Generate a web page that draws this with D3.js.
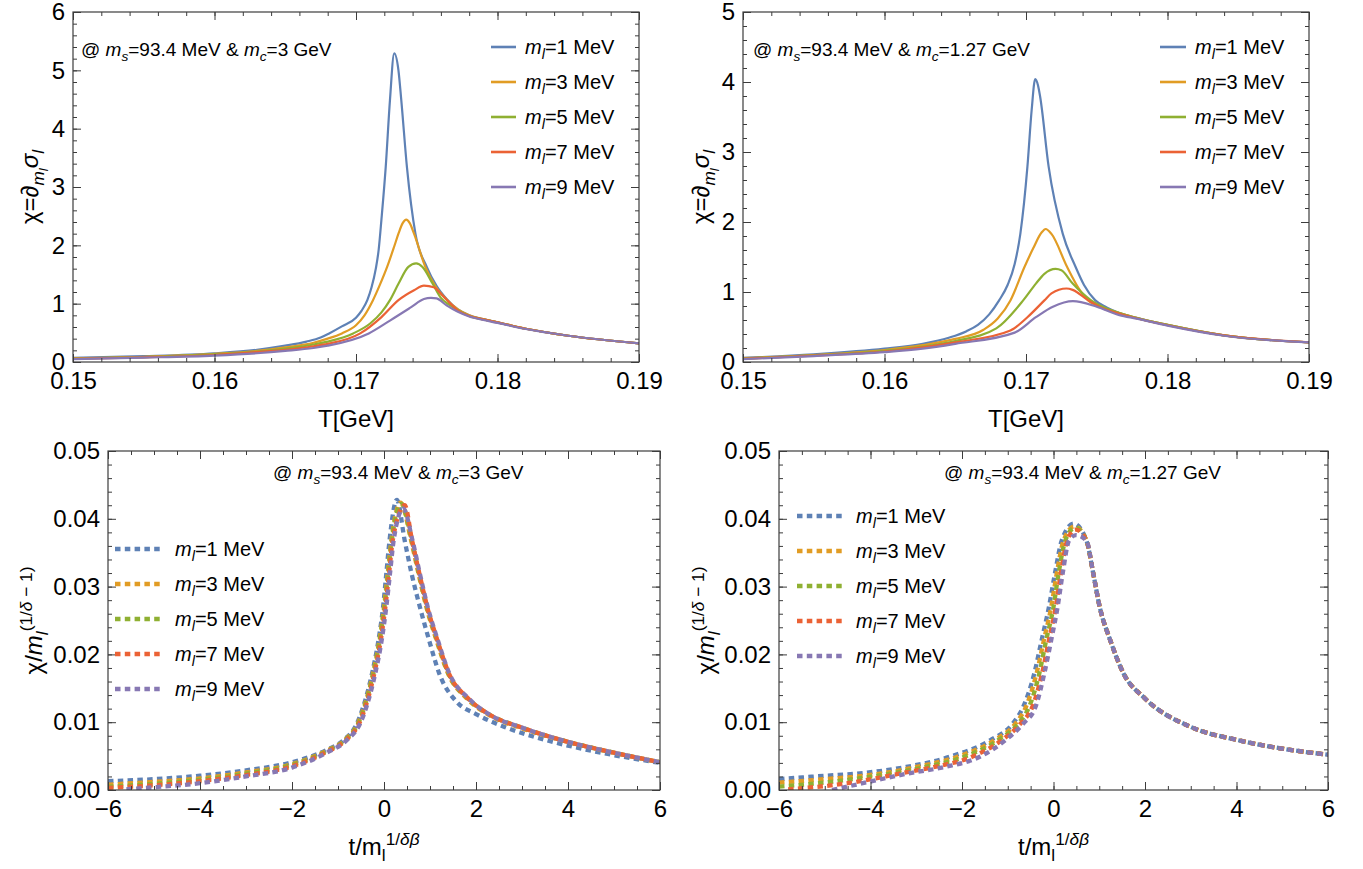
<!DOCTYPE html>
<html>
<head>
<meta charset="utf-8">
<script src="https://cdn.jsdelivr.net/npm/d3@7"></script>
<style>
body{margin:0;background:#fff;}
text{font-family:"Liberation Sans",Arial,sans-serif;fill:#000;}
</style>
</head>
<body>
<script>
(function(){

//series colours (Mathematica default palette) and legend labels
var colors = ["#5E81B5", "#E19C24", "#8FB032", "#EB6235", "#8778B3"];
var massLabels = ["1", "3", "5", "7", "9"];

//top left: chi vs T, m_c = 3 GeV
var tl_m1 = [[0.150,0.07],[0.155,0.10],[0.160,0.15],[0.163,0.21],[0.165,0.28],[0.1665,0.35],[0.1675,0.42],[0.1681,0.49],[0.169,0.61],[0.1700,0.76],[0.1704,0.88],[0.1708,1.06],[0.1711,1.28],[0.1714,1.60],[0.1716,1.92],[0.1718,2.45],[0.1721,3.34],[0.1724,4.49],[0.1727,5.29],[0.1730,5.00],[0.1732,4.49],[0.1736,3.34],[0.1742,2.20],[0.1750,1.63],[0.1757,1.30],[0.1764,1.08],[0.1772,0.90],[0.1780,0.80],[0.179,0.735],[0.180,0.68],[0.182,0.57],[0.185,0.45],[0.190,0.32]];
var tl_m3 = [[0.150,0.065],[0.155,0.09],[0.160,0.14],[0.163,0.19],[0.165,0.25],[0.167,0.33],[0.168,0.40],[0.169,0.49],[0.170,0.63],[0.1706,0.80],[0.1712,1.06],[0.1717,1.33],[0.1722,1.63],[0.1727,1.98],[0.1730,2.20],[0.1733,2.38],[0.17355,2.44],[0.1738,2.38],[0.1741,2.20],[0.1749,1.63],[0.1756,1.30],[0.1764,1.07],[0.1772,0.90],[0.1780,0.80],[0.179,0.735],[0.180,0.68],[0.182,0.57],[0.185,0.45],[0.190,0.32]];
var tl_m5 = [[0.150,0.06],[0.155,0.085],[0.160,0.13],[0.163,0.18],[0.165,0.23],[0.167,0.30],[0.168,0.35],[0.1698,0.49],[0.171,0.66],[0.1718,0.85],[0.1724,1.06],[0.1730,1.34],[0.1737,1.63],[0.17425,1.69],[0.1747,1.63],[0.1754,1.35],[0.1760,1.10],[0.1766,0.98],[0.1772,0.89],[0.1780,0.79],[0.179,0.73],[0.180,0.68],[0.182,0.57],[0.185,0.45],[0.190,0.32]];
var tl_m7 = [[0.150,0.055],[0.155,0.08],[0.160,0.12],[0.163,0.17],[0.165,0.21],[0.167,0.27],[0.168,0.31],[0.1703,0.49],[0.1718,0.77],[0.1730,1.06],[0.1741,1.23],[0.1748,1.31],[0.1755,1.28],[0.1760,1.17],[0.1766,1.02],[0.1772,0.88],[0.1780,0.79],[0.179,0.73],[0.180,0.68],[0.182,0.57],[0.185,0.45],[0.190,0.32]];
var tl_m9 = [[0.150,0.05],[0.155,0.075],[0.160,0.11],[0.163,0.15],[0.165,0.19],[0.167,0.24],[0.168,0.28],[0.1709,0.49],[0.1724,0.71],[0.1739,0.94],[0.1748,1.08],[0.1753,1.10],[0.1757,1.09],[0.1764,0.97],[0.1772,0.86],[0.1780,0.78],[0.179,0.72],[0.180,0.67],[0.182,0.565],[0.185,0.45],[0.190,0.32]];

//top right: chi vs T, m_c = 1.27 GeV
var tr_m1 = [[0.150,0.06],[0.155,0.11],[0.160,0.19],[0.1627,0.26],[0.1646,0.35],[0.1658,0.44],[0.1666,0.53],[0.1674,0.68],[0.1681,0.88],[0.1687,1.10],[0.1692,1.40],[0.1696,1.83],[0.1701,2.79],[0.1704,3.60],[0.17065,4.04],[0.17085,3.95],[0.1710,3.79],[0.1716,2.79],[0.1726,1.83],[0.1735,1.36],[0.1741,1.10],[0.1749,0.88],[0.1757,0.78],[0.1766,0.70],[0.1778,0.63],[0.180,0.53],[0.184,0.38],[0.190,0.28]];
var tr_m3 = [[0.150,0.055],[0.155,0.10],[0.160,0.17],[0.1627,0.24],[0.165,0.33],[0.1670,0.46],[0.168,0.62],[0.1689,0.88],[0.1699,1.36],[0.1705,1.62],[0.1711,1.85],[0.17139,1.90],[0.1718,1.83],[0.1729,1.36],[0.1737,1.06],[0.1744,0.88],[0.1755,0.77],[0.1766,0.70],[0.1778,0.63],[0.180,0.53],[0.184,0.38],[0.190,0.28]];
var tr_m5 = [[0.150,0.05],[0.155,0.095],[0.160,0.16],[0.1627,0.22],[0.165,0.30],[0.1679,0.48],[0.1698,0.88],[0.1707,1.12],[0.1713,1.26],[0.17209,1.33],[0.1725,1.31],[0.1733,1.12],[0.1746,0.88],[0.1756,0.77],[0.1766,0.70],[0.1778,0.63],[0.180,0.53],[0.184,0.38],[0.190,0.28]];
var tr_m7 = [[0.150,0.045],[0.155,0.09],[0.160,0.15],[0.1627,0.21],[0.165,0.28],[0.1689,0.45],[0.1701,0.64],[0.1713,0.88],[0.1718,0.98],[0.17286,1.05],[0.1733,1.03],[0.1744,0.88],[0.1755,0.76],[0.1766,0.69],[0.1778,0.625],[0.180,0.525],[0.184,0.38],[0.190,0.28]];
var tr_m9 = [[0.150,0.04],[0.155,0.085],[0.160,0.14],[0.1627,0.19],[0.165,0.26],[0.1692,0.42],[0.1707,0.64],[0.1719,0.79],[0.17332,0.87],[0.1750,0.79],[0.1766,0.67],[0.1778,0.62],[0.180,0.52],[0.184,0.375],[0.190,0.28]];

//bottom left: scaled chi, m_c = 3 GeV
var bl_m1 = [[-6,0.0013],[-5,0.0016],[-4,0.0021],[-3,0.0029],[-2,0.0041],[-1.25,0.0059],[-0.87,0.0074],[-0.59,0.0098],[-0.45,0.0123],[-0.26,0.0172],[-0.12,0.0221],[-0.02,0.0270],[0.05,0.0319],[0.12,0.0368],[0.28,0.0428],[0.45,0.0368],[0.60,0.0319],[0.78,0.0270],[0.98,0.0221],[1.20,0.0172],[1.58,0.0130],[2.0,0.0112],[2.62,0.0093],[3.5,0.0074],[4.5,0.0058],[6,0.0040]];
var bl_m3 = [[-6,0.0008],[-5,0.0012],[-4,0.0017],[-3,0.0026],[-2,0.0038],[-1.25,0.0058],[-0.85,0.0074],[-0.57,0.0098],[-0.43,0.0123],[-0.24,0.0172],[-0.10,0.0221],[0.0,0.0270],[0.08,0.0319],[0.16,0.0368],[0.36,0.0424],[0.59,0.0368],[0.75,0.0319],[0.92,0.0270],[1.14,0.0221],[1.39,0.0172],[1.8,0.0135],[2.3,0.0110],[3.0,0.0091],[4.0,0.0071],[5.0,0.0055],[6,0.0041]];
var bl_m5 = [[-6,0.0005],[-5,0.0009],[-4,0.0015],[-3,0.0024],[-2,0.0037],[-1.25,0.0057],[-0.84,0.0074],[-0.56,0.0098],[-0.42,0.0123],[-0.23,0.0172],[-0.09,0.0221],[0.01,0.0270],[0.09,0.0319],[0.17,0.0368],[0.38,0.0422],[0.60,0.0368],[0.76,0.0319],[0.93,0.0270],[1.15,0.0221],[1.40,0.0172],[1.82,0.0135],[2.3,0.0111],[3.0,0.0092],[4.0,0.0071],[5.0,0.0055],[6,0.0041]];
var bl_m7 = [[-6,0.0003],[-5,0.0007],[-4,0.0013],[-3,0.0022],[-2,0.0035],[-1.25,0.0056],[-0.82,0.0074],[-0.54,0.0098],[-0.40,0.0123],[-0.21,0.0172],[-0.07,0.0221],[0.03,0.0270],[0.11,0.0319],[0.19,0.0368],[0.45,0.0420],[0.61,0.0368],[0.77,0.0319],[0.94,0.0270],[1.16,0.0221],[1.41,0.0172],[1.83,0.0135],[2.3,0.0111],[3.0,0.0092],[4.0,0.0071],[5.0,0.0055],[6,0.0041]];
var bl_m9 = [[-5.6,0.0001],[-5,0.0004],[-4,0.0010],[-3,0.0020],[-2,0.0033],[-1.25,0.0055],[-0.80,0.0074],[-0.52,0.0098],[-0.38,0.0123],[-0.19,0.0172],[-0.05,0.0221],[0.05,0.0270],[0.13,0.0319],[0.21,0.0368],[0.42,0.0415],[0.62,0.0368],[0.78,0.0319],[0.95,0.0270],[1.17,0.0221],[1.42,0.0172],[1.84,0.0135],[2.3,0.0111],[3.0,0.0092],[4.0,0.0071],[5.0,0.0055],[6,0.0041]];

//bottom right: scaled chi, m_c = 1.27 GeV
var br_m1 = [[-6,0.0016],[-5,0.0021],[-4.17,0.0025],[-3.22,0.0034],[-2.27,0.0049],[-1.37,0.0074],[-0.89,0.0098],[-0.66,0.0123],[-0.42,0.0172],[-0.26,0.0221],[-0.10,0.0270],[0.03,0.0319],[0.18,0.0368],[0.44,0.0393],[0.72,0.0368],[0.87,0.0319],[1.01,0.0270],[1.24,0.0221],[1.53,0.0172],[2.0,0.0135],[3.0,0.0093],[4.0,0.0074],[5.0,0.0061],[6,0.0052]];
var br_m3 = [[-6,0.0011],[-5,0.0016],[-3.7,0.0025],[-3.0,0.0034],[-2.1,0.0049],[-1.28,0.0074],[-0.83,0.0098],[-0.60,0.0123],[-0.37,0.0172],[-0.21,0.0221],[-0.05,0.0270],[0.07,0.0319],[0.22,0.0368],[0.46,0.0389],[0.72,0.0368],[0.87,0.0319],[1.01,0.0270],[1.24,0.0221],[1.53,0.0172],[2.0,0.0135],[3.0,0.0093],[4.0,0.0074],[5.0,0.0061],[6,0.0052]];
var br_m5 = [[-6,0.0005],[-5,0.0011],[-3.5,0.0025],[-2.8,0.0034],[-1.95,0.0049],[-1.20,0.0074],[-0.77,0.0098],[-0.53,0.0123],[-0.31,0.0172],[-0.16,0.0221],[0.0,0.0270],[0.11,0.0319],[0.26,0.0368],[0.47,0.0387],[0.72,0.0368],[0.87,0.0319],[1.01,0.0270],[1.24,0.0221],[1.53,0.0172],[2.0,0.0135],[3.0,0.0093],[4.0,0.0074],[5.0,0.0061],[6,0.0052]];
var br_m7 = [[-5.8,0.0001],[-4.5,0.0010],[-3.3,0.0025],[-2.6,0.0034],[-1.78,0.0049],[-1.12,0.0074],[-0.72,0.0098],[-0.46,0.0123],[-0.25,0.0172],[-0.10,0.0221],[0.05,0.0270],[0.16,0.0319],[0.30,0.0368],[0.48,0.0384],[0.72,0.0368],[0.87,0.0319],[1.01,0.0270],[1.24,0.0221],[1.53,0.0172],[2.0,0.0135],[3.0,0.0093],[4.0,0.0074],[5.0,0.0061],[6,0.0052]];
var br_m9 = [[-4.84,0.0],[-4.17,0.0010],[-3.13,0.0025],[-2.37,0.0034],[-1.61,0.0049],[-1.04,0.0074],[-0.66,0.0098],[-0.39,0.0123],[-0.20,0.0172],[-0.05,0.0221],[0.09,0.0270],[0.20,0.0319],[0.34,0.0368],[0.49,0.0376],[0.72,0.0368],[0.87,0.0319],[1.01,0.0270],[1.24,0.0221],[1.53,0.0172],[2.0,0.0135],[3.0,0.0093],[4.0,0.0074],[5.0,0.0061],[6,0.0052]];

//tick values
var tTicks = [0.15, 0.16, 0.17, 0.18, 0.19];
var tlYTicks = [0, 1, 2, 3, 4, 5, 6];
var trYTicks = [0, 1, 2, 3, 4, 5];
var sTicks = [-6, -4, -2, 0, 2, 4, 6];
var sYTicks = [0, 0.01, 0.02, 0.03, 0.04, 0.05];

var width = 1363, height = 869;
var svg = d3.select("body").append("svg")
    .attr("width", width)
    .attr("height", height);

//panel layout
var panels = [
    {x0:73, x1:639, y0:12, y1:362, xDom:[0.15,0.19], yDom:[0,6], xTicks:tTicks, yTicks:tlYTicks,
     xMinor:0.002, yMinor:0.2, xFmt:d3.format(".2f"), yFmt:d3.format("d"),
     series:[tl_m1, tl_m3, tl_m5, tl_m7, tl_m9], dotted:false, mc:"3",
     note:[81, 56], leg:[491, 516, 525, 47], yTitleX:38, xTitleY:427, yTitle:"top", xTitle:"T"},
    {x0:743, x1:1309, y0:12, y1:362, xDom:[0.15,0.19], yDom:[0,5], xTicks:tTicks, yTicks:trYTicks,
     xMinor:0.002, yMinor:0.2, xFmt:d3.format(".2f"), yFmt:d3.format("d"),
     series:[tr_m1, tr_m3, tr_m5, tr_m7, tr_m9], dotted:false, mc:"1.27",
     note:[753, 56], leg:[1160, 1186, 1195, 47], yTitleX:709, xTitleY:427, yTitle:"top", xTitle:"T"},
    {x0:108, x1:660, y0:451, y1:790, xDom:[-6,6], yDom:[0,0.05], xTicks:sTicks, yTicks:sYTicks,
     xMinor:0.5, yMinor:0.002, xFmt:d3.format("d"), yFmt:d3.format(".2f"),
     series:[bl_m1, bl_m3, bl_m5, bl_m7, bl_m9], dotted:true, mc:"3",
     note:[273, 479], leg:[115, 162, 175, 549], yTitleX:42, xTitleY:855, yTitle:"bottom", xTitle:"t"},
    {x0:779, x1:1328, y0:451, y1:790, xDom:[-6,6], yDom:[0,0.05], xTicks:sTicks, yTicks:sYTicks,
     xMinor:0.5, yMinor:0.002, xFmt:d3.format("d"), yFmt:d3.format(".2f"),
     series:[br_m1, br_m3, br_m5, br_m7, br_m9], dotted:true, mc:"1.27",
     note:[944, 479], leg:[797, 844, 856, 516], yTitleX:714, xTitleY:855, yTitle:"bottom", xTitle:"t"}
];

panels.forEach(function(p, i){ drawPanel(p, i); });

//append text made of normal / italic / shifted pieces
function rich(textSel, parts, size){
    var cur = 0;
    parts.forEach(function(part){
        var s = part[0], kind = part[1] || "";
        var off = 0, fs = size;
        if (kind.indexOf("sub") >= 0){ off = size * 0.25; fs = size * 0.72; }
        if (kind.indexOf("sup") >= 0){ off = -size * 0.42; fs = size * 0.72; }
        if (kind.indexOf("ss") >= 0){ off = size * 0.42; fs = size * 0.55; }
        var t = textSel.append("tspan")
            .text(s)
            .attr("dy", off - cur)
            .style("font-size", fs + "px");
        if (kind.indexOf("it") >= 0) t.style("font-style", "italic");
        cur = off;
    });
}

function drawPanel(p, idx){
    var g = svg.append("g");
    var x = d3.scaleLinear().domain(p.xDom).range([p.x0, p.x1]);
    var y = d3.scaleLinear().domain(p.yDom).range([p.y1, p.y0]);
    var frameColor = "#3c3c3c";

    var xMinors = d3.range(p.xDom[0], p.xDom[1] + p.xMinor / 2, p.xMinor);
    var yMinors = d3.range(p.yDom[0], p.yDom[1] + p.yMinor / 2, p.yMinor);

    //curves, clipped to the frame
    var clipId = "clip" + idx;
    svg.append("clipPath").attr("id", clipId)
        .append("rect")
        .attr("x", p.x0).attr("y", p.y0)
        .attr("width", p.x1 - p.x0).attr("height", p.y1 - p.y0);

    var line = d3.line()
        .x(function(d){ return x(d[0]); })
        .y(function(d){ return y(d[1]); })
        .curve(d3.curveMonotoneX);

    var curves = g.append("g").attr("clip-path", "url(#" + clipId + ")");
    p.series.forEach(function(s, k){
        var path = curves.append("path")
            .datum(s)
            .attr("fill", "none")
            .attr("stroke", colors[k])
            .attr("d", line);
        if (p.dotted){
            path.attr("stroke-width", 4.3).attr("stroke-dasharray", "5.5,4.3");
        } else {
            path.attr("stroke-width", 2.2).attr("stroke-linejoin", "round");
        }
    });

    //frame ticks (inward) on all four sides
    function styleAxis(a){
        a.select(".domain").remove();
        a.selectAll("line").attr("stroke", frameColor);
        a.attr("font-size", 24).attr("font-family", null);
        a.selectAll("text").attr("fill", "#000");
    }
    var axes = [
        [d3.axisBottom(x), "translate(0," + p.y1 + ")", p.xTicks, xMinors, p.xFmt, 10],
        [d3.axisTop(x), "translate(0," + p.y0 + ")", p.xTicks, xMinors, null, 10],
        [d3.axisLeft(y), "translate(" + p.x0 + ",0)", p.yTicks, yMinors, p.yFmt, 8],
        [d3.axisRight(y), "translate(" + p.x1 + ",0)", p.yTicks, yMinors, null, 8]
    ];
    axes.forEach(function(a){
        var minorAxis = a[0].tickValues(a[3]).tickSize(-4).tickSizeOuter(0).tickFormat("");
        g.append("g").attr("transform", a[1]).call(minorAxis).call(styleAxis);
        var majorAxis = a[0].tickValues(a[2]).tickSize(-8).tickSizeOuter(0)
            .tickPadding(a[5])
            .tickFormat(a[4] ? a[4] : "");
        g.append("g").attr("transform", a[1]).call(majorAxis).call(styleAxis);
    });

    g.append("rect")
        .attr("x", p.x0).attr("y", p.y0)
        .attr("width", p.x1 - p.x0).attr("height", p.y1 - p.y0)
        .attr("fill", "none")
        .attr("stroke", frameColor)
        .attr("stroke-width", 1.2);

    //note text
    var note = g.append("text").attr("x", p.note[0]).attr("y", p.note[1]);
    rich(note, [["@ "], ["m", "it"], ["s", "subit"], ["=93.4 MeV & "], ["m", "it"], ["c", "subit"], ["=" + p.mc + " GeV"]], 19);

    //legend
    var legStep = 35;
    massLabels.forEach(function(m, k){
        var ly = p.leg[3] + k * legStep;
        var ll = g.append("line")
            .attr("x1", p.leg[0]).attr("x2", p.leg[1])
            .attr("y1", ly).attr("y2", ly)
            .attr("stroke", colors[k]);
        if (p.dotted){
            ll.attr("stroke-width", 4.3).attr("stroke-dasharray", "5.5,4.3");
        } else {
            ll.attr("stroke-width", 2.6);
        }
        var lt = g.append("text").attr("x", p.leg[2]).attr("y", ly + 7);
        rich(lt, [["m", "it"], ["l", "subit"], ["=" + m + " MeV"]], 20);
    });

    //axis titles
    var cx = (p.x0 + p.x1) / 2, cy = (p.y0 + p.y1) / 2;
    var xt = g.append("text")
        .attr("x", cx).attr("y", p.xTitleY)
        .attr("text-anchor", "middle");
    if (p.xTitle === "T"){
        rich(xt, [["T[GeV]"]], 24);
    } else {
        rich(xt, [["t/m"], ["l", "sub"], ["1/", "sup"], ["δβ", "supit"]], 24);
    }

    var yt = g.append("text")
        .attr("text-anchor", "middle")
        .attr("transform", "translate(" + p.yTitleX + "," + cy + ") rotate(-90)");
    if (p.yTitle === "top"){
        rich(yt, [["χ=∂"], ["m", "subit"], ["l", "ssit"], ["σ", "it"], ["l", "subit"]], 24);
    } else {
        rich(yt, [["χ/"], ["m", "it"], ["l", "subit"], ["(1/", "sup"], ["δ", "supit"], [" − 1)", "sup"]], 24);
    }
}

})();
</script>
</body>
</html>
